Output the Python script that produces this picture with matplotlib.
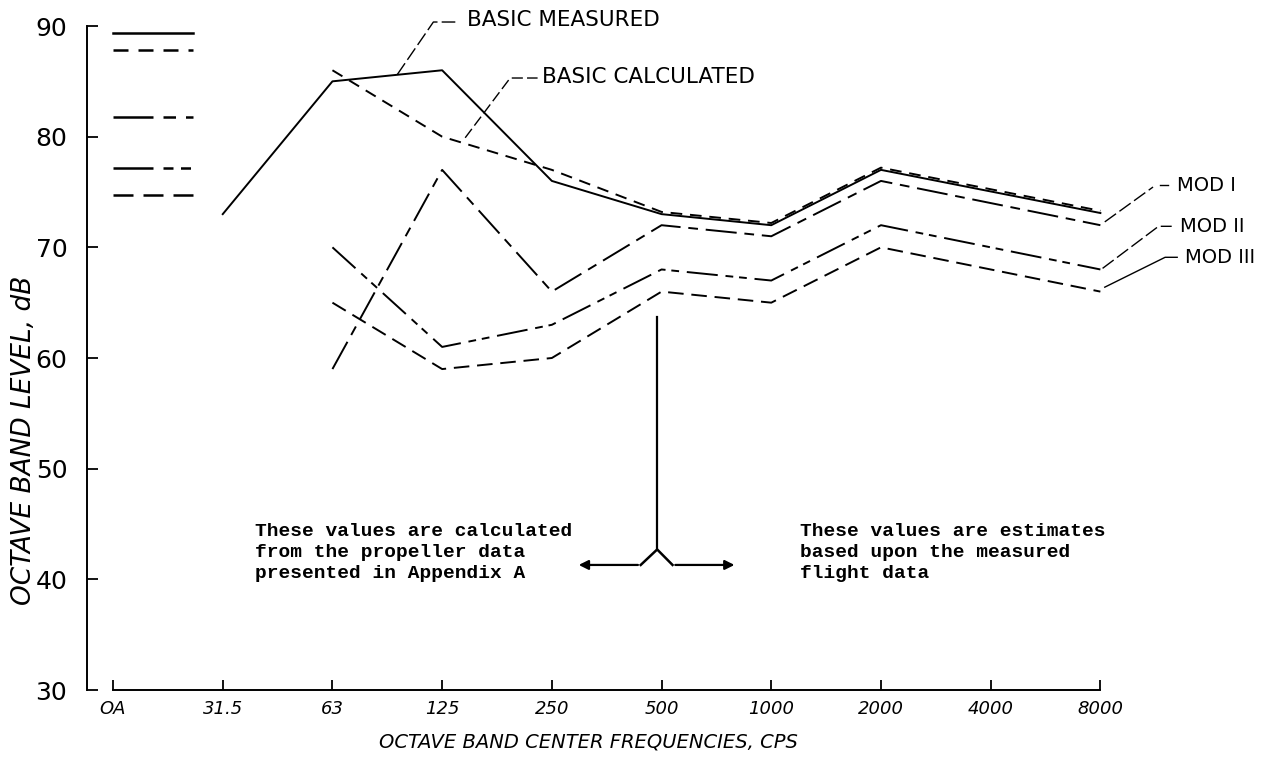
import matplotlib
matplotlib.use("Agg")
import matplotlib.pyplot as plt
import numpy as np

# ---------------- data ----------------
freq_labels = ['OA', '31.5', '63', '125', '250', '500', '1000', '2000', '4000', '8000']

measured_x = ['31.5', '63', '125', '250', '500', '1000', '2000', '8000']
measured_y = [73.0, 85.0, 86.0, 76.0, 73.0, 72.0, 77.0, 73.1]

calc_x = ['63', '125', '250', '500', '1000', '2000', '8000']
calc_y = [86.0, 80.0, 77.0, 73.2, 72.2, 77.2, 73.3]

mod_x = ['63', '125', '250', '500', '1000', '2000', '8000']
mod1_y = [59.0, 77.0, 66.0, 72.0, 71.0, 76.0, 72.0]
mod2_y = [70.0, 61.0, 63.0, 68.0, 67.0, 72.0, 68.0]
mod3_y = [65.0, 59.0, 60.0, 66.0, 65.0, 70.0, 66.0]

legend_levels = [89.4, 87.8, 81.8, 77.2, 74.7]

y_ticks = [30, 40, 50, 60, 70, 80, 90]

# ---------------- figure ----------------
W, H = 1262, 758
fig = plt.figure(figsize=(W / 100, H / 100), dpi=100)
fig.patch.set_facecolor('white')
ax = fig.add_axes([86.7 / W, 68 / H, (1243 - 86.7) / W, 664 / H])
ax.set_xlim(-0.24, 10.3)
ax.set_ylim(30, 90)

pos = {lab: i for i, lab in enumerate(freq_labels)}
def xs(labels):
    return [pos[l] for l in labels]

lw = 1.4
st_solid = '-'
st_calc = (0, (6, 4))
st_mod1 = (0, (16, 4, 5, 4))
st_mod2 = (0, (16, 4, 4, 3, 4, 4))
st_mod3 = (0, (8, 4))

ax.plot(xs(measured_x), measured_y, color='black', lw=lw, ls=st_solid)
ax.plot(xs(calc_x), calc_y, color='black', lw=lw, ls=st_calc)
ax.plot(xs(mod_x), mod1_y, color='black', lw=lw, ls=st_mod1)
ax.plot(xs(mod_x), mod2_y, color='black', lw=lw, ls=st_mod2)
ax.plot(xs(mod_x), mod3_y, color='black', lw=lw, ls=st_mod3)

# legend key lines (top-left, unlabeled)
for lvl, st in zip(legend_levels, [st_solid, st_calc, st_mod1, st_mod2, st_mod3]):
    ax.plot([0.0, 0.73], [lvl, lvl], color='black', lw=1.8, ls=st)

# ---------------- axes styling ----------------
for s in ['top', 'right']:
    ax.spines[s].set_visible(False)
ax.spines['bottom'].set_bounds(0, 9)
ax.spines['left'].set_linewidth(1.4)
ax.spines['bottom'].set_linewidth(1.4)

ax.set_xticks(range(len(freq_labels)))
ax.set_xticklabels(freq_labels, fontsize=13, style='italic', family='DejaVu Sans')
ax.set_yticks(y_ticks)
ax.set_yticklabels([str(v) for v in y_ticks], fontsize=18, family='DejaVu Sans')
ax.tick_params(axis='x', direction='in', length=7, width=1.3, pad=7)
ax.tick_params(axis='y', direction='in', length=8, width=1.3, pad=14)

fig.text(588 / W, 1 - 742 / H, 'OCTAVE BAND CENTER FREQUENCIES, CPS', ha='center',
         va='center', fontsize=14, style='italic', family='DejaVu Sans')
fig.text(24 / W, 1 - 440 / H, 'OCTAVE BAND LEVEL, dB', rotation=90, ha='center',
         va='center', fontsize=19, style='italic', family='DejaVu Sans')

# ---------------- line labels with leaders ----------------
def leader(pts, ls='-'):
    px, py = zip(*pts)
    ax.plot(px, py, color='black', lw=1.0, ls=ls, clip_on=False)

hand = dict(fontsize=15.5, family='DejaVu Sans', va='center', ha='left', clip_on=False)
modf = dict(fontsize=14, family='DejaVu Sans', va='center', ha='left', clip_on=False)

leader([(2.59, 85.6), (2.92, 90.36), (3.12, 90.36)], ls=(0, (10, 3)))
ax.text(3.23, 90.5, 'BASIC MEASURED', **hand)

leader([(3.21, 79.9), (3.62, 85.3), (3.87, 85.3)], ls=(0, (8, 3)))
ax.text(3.91, 85.4, 'BASIC CALCULATED', **hand)

leader([(9.04, 72.3), (9.48, 75.45)], ls=(0, (10, 3)))
leader([(9.54, 75.6), (9.62, 75.6)])
ax.text(9.70, 75.6, 'MOD I', **modf)

leader([(9.02, 68.1), (9.53, 71.9), (9.65, 71.9)], ls=(0, (10, 3)))
ax.text(9.73, 71.9, 'MOD II', **modf)

leader([(9.04, 66.4), (9.59, 69.1), (9.70, 69.1)])
ax.text(9.77, 69.1, 'MOD III', **modf)

# ---------------- divider arrow annotation ----------------
ax.plot([4.96, 4.96], [63.7, 42.7], color='black', lw=1.6)
ax.plot([4.81, 4.96, 5.10], [41.3, 42.7, 41.3], color='black', lw=1.8)
ax.annotate('', xy=(4.22, 41.3), xytext=(4.81, 41.3),
            arrowprops=dict(arrowstyle='-|>', color='black', lw=1.6, mutation_scale=14))
ax.annotate('', xy=(5.69, 41.3), xytext=(5.10, 41.3),
            arrowprops=dict(arrowstyle='-|>', color='black', lw=1.6, mutation_scale=14))

mono = dict(fontsize=14, family='Liberation Mono', weight='bold', va='top', ha='left',
            linespacing=1.3)
ax.text(1.29, 45.1, 'These values are calculated\nfrom the propeller data\npresented in Appendix A', **mono)
ax.text(6.26, 45.1, 'These values are estimates\nbased upon the measured\nflight data', **mono)

fig.savefig('out.png', dpi=100, facecolor='white')
